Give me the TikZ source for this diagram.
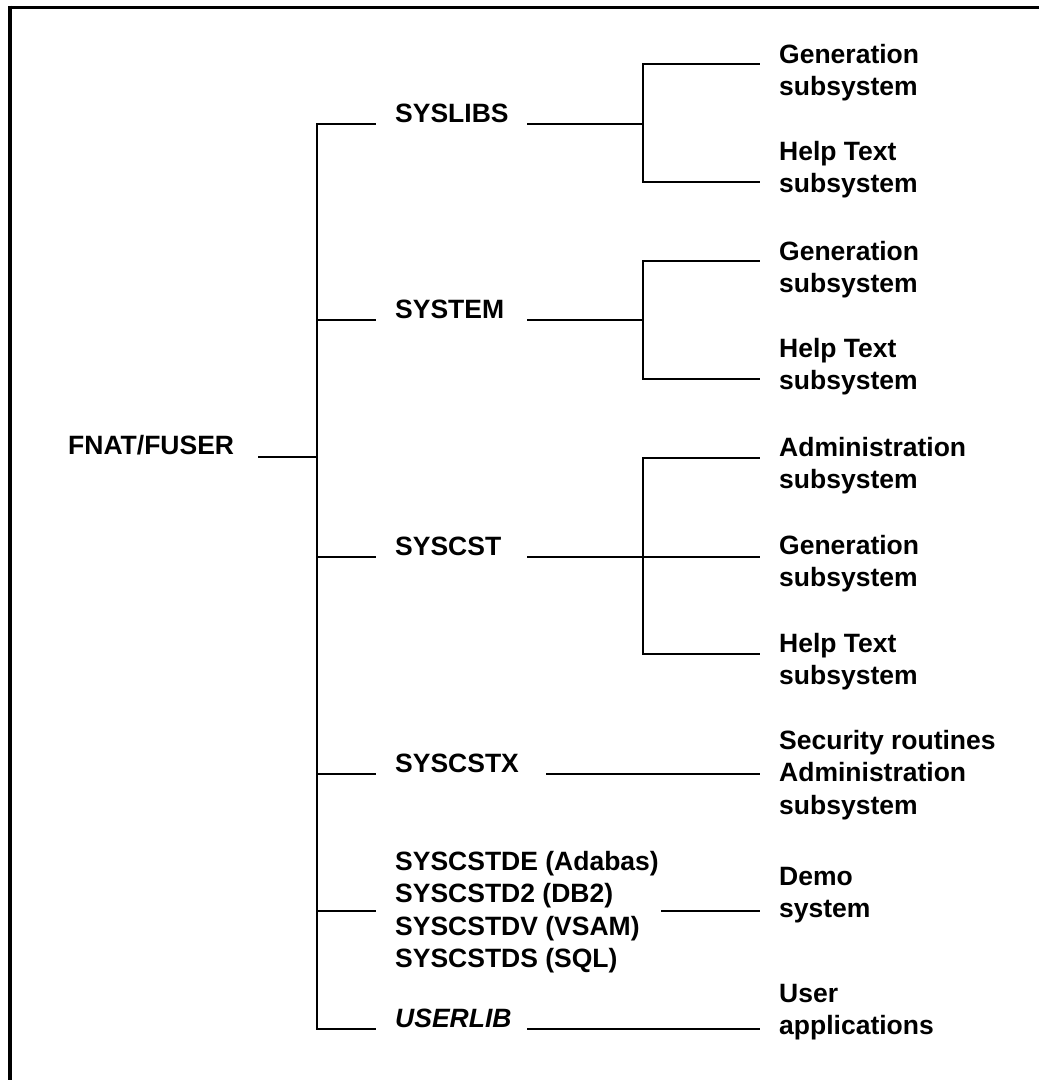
\documentclass[tikz,border=0pt]{standalone}
\usepackage{fontspec}
\setmainfont{Liberation Sans}
\newcommand\txtblock[1]{\begin{tabular}[t]{@{}l@{}}#1\end{tabular}}
\begin{document}
\begin{tikzpicture}[x=1pt,y=-1pt,
  lbl/.style={font=\bfseries\fontsize{26.5}{32.5}\selectfont, inner sep=0pt, anchor=base west},
  conn/.style={line width=1.8pt, line cap=rect},
  frameline/.style={line width=#1}]
\useasboundingbox (0,0) rectangle (1039,1080);

% outer frame (top and left edges only)
\draw[frameline=4pt] (10.3,5.7) -- (10.3,1081);
\draw[frameline=3pt] (8.3,7.2) -- (1040,7.2);

% root
\node[lbl] (fnat) at (68,454) {FNAT/FUSER};

% libraries
\node[lbl] (syslibs) at (395,122) {SYSLIBS};
\node[lbl] (system)  at (395,318) {SYSTEM};
\node[lbl] (syscst)  at (395,555) {SYSCST};
\node[lbl] (syscstx) at (395,772) {SYSCSTX};
\node[lbl] (demolib) at (395,870) {\txtblock{SYSCSTDE (Adabas)\\SYSCSTD2 (DB2)\\SYSCSTDV (VSAM)\\SYSCSTDS (SQL)}};
\node[lbl] (userlib) at (395,1027) {\itshape USERLIB};

% contents
\node[lbl] (gen1)  at (779,63)  {\txtblock{Generation\\subsystem}};
\node[lbl] (help1) at (779,160) {\txtblock{Help Text\\subsystem}};
\node[lbl] (gen2)  at (779,260) {\txtblock{Generation\\subsystem}};
\node[lbl] (help2) at (779,357) {\txtblock{Help Text\\subsystem}};
\node[lbl] (adm3)  at (779,456) {\txtblock{Administration\\subsystem}};
\node[lbl] (gen3)  at (779,554) {\txtblock{Generation\\subsystem}};
\node[lbl] (help3) at (779,652) {\txtblock{Help Text\\subsystem}};
\node[lbl] (sec)   at (779,749) {\txtblock{Security routines\\Administration\\subsystem}};
\node[lbl] (demo)  at (779,885) {\txtblock{Demo\\system}};
\node[lbl] (user)  at (779,1002) {\txtblock{User\\applications}};

% junction points
\coordinate (rootend) at (259,457);
\coordinate (t0) at (317,457);
\coordinate (t1) at (317,124);
\coordinate (t2) at (317,320);
\coordinate (t3) at (317,557);
\coordinate (t4) at (317,774);
\coordinate (t5) at (317,911);
\coordinate (t6) at (317,1029);
\coordinate (s1) at (375,124);
\coordinate (s2) at (375,320);
\coordinate (s3) at (375,557);
\coordinate (s4) at (375,774);
\coordinate (s5) at (375,911);
\coordinate (s6) at (375,1029);
\coordinate (r1) at (528,124);
\coordinate (r2) at (528,320);
\coordinate (r3) at (528,557);
\coordinate (r4) at (547,774);
\coordinate (r5) at (662,911);
\coordinate (r6) at (528,1029);
\coordinate (b1a) at (643,64);
\coordinate (b1b) at (643,182);
\coordinate (b2a) at (643,261);
\coordinate (b2b) at (643,379);
\coordinate (b3a) at (643,458);
\coordinate (b3b) at (643,557);
\coordinate (b3c) at (643,654);
\coordinate (e1a) at (759,64);
\coordinate (e1b) at (759,182);
\coordinate (e2a) at (759,261);
\coordinate (e2b) at (759,379);
\coordinate (e3a) at (759,458);
\coordinate (e3b) at (759,557);
\coordinate (e3c) at (759,654);
\coordinate (e4) at (759,774);
\coordinate (e5) at (759,911);
\coordinate (e6) at (759,1029);

% main trunk
\draw[conn] (rootend) -- (t0);
\draw[conn] (t1) -- (t6);
\foreach \i in {1,...,6} \draw[conn] (t\i) -- (s\i);

% SYSLIBS branches
\draw[conn] (r1) -- (b1a |- r1);
\draw[conn] (b1a) -- (b1b);
\draw[conn] (b1a) -- (e1a);
\draw[conn] (b1b) -- (e1b);

% SYSTEM branches
\draw[conn] (r2) -- (b2a |- r2);
\draw[conn] (b2a) -- (b2b);
\draw[conn] (b2a) -- (e2a);
\draw[conn] (b2b) -- (e2b);

% SYSCST branches
\draw[conn] (r3) -- (b3b);
\draw[conn] (b3a) -- (b3c);
\draw[conn] (b3a) -- (e3a);
\draw[conn] (b3b) -- (e3b);
\draw[conn] (b3c) -- (e3c);

% single links
\draw[conn] (r4) -- (e4);
\draw[conn] (r5) -- (e5);
\draw[conn] (r6) -- (e6);
\end{tikzpicture}
\end{document}
